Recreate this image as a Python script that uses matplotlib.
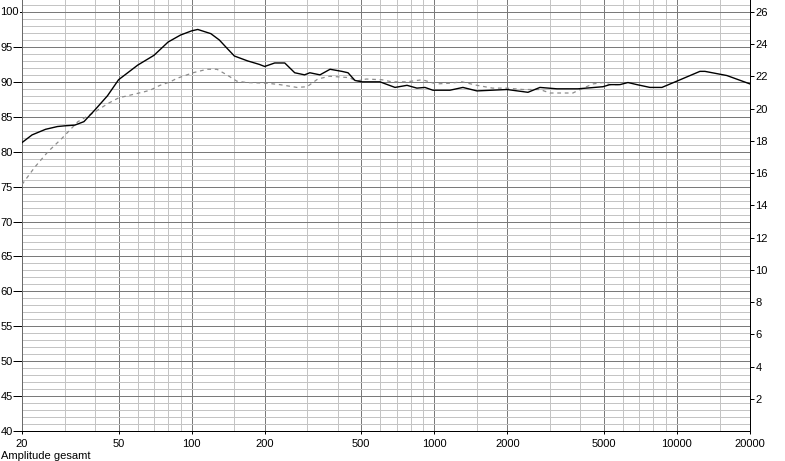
import matplotlib
matplotlib.use("Agg")
import matplotlib.pyplot as plt
import matplotlib.transforms as mtransforms
from matplotlib.ticker import FixedLocator, NullFormatter

# ---- data ----
solid_freq = [20, 22, 25, 28, 30, 33, 36, 40, 45, 50, 60, 70, 80, 90, 100, 106, 120, 130,
              140, 150, 170, 190, 200, 220, 242, 266, 292, 307, 338, 372, 416, 441, 471,
              503, 597, 689, 772, 848, 915, 987, 1160, 1312, 1499, 1993, 2432, 2725, 3203,
              3908, 4954, 5296, 5822, 6281, 6841, 7739, 8671, 9994, 12436, 13040, 16066, 20000]
solid_db = [81.3, 82.4, 83.2, 83.6, 83.7, 83.8, 84.3, 86.0, 88.0, 90.3, 92.4, 93.8, 95.7, 96.7,
            97.3, 97.5, 96.9, 96.0, 94.8, 93.7, 93.0, 92.5, 92.2, 92.7, 92.7, 91.3, 91.0, 91.3,
            91.0, 91.8, 91.5, 91.3, 90.2, 90.0, 90.0, 89.2, 89.5, 89.1, 89.2, 88.8, 88.8, 89.2,
            88.7, 88.9, 88.5, 89.2, 89.0, 89.0, 89.3, 89.6, 89.6, 89.9, 89.6, 89.2, 89.2, 90.1,
            91.5, 91.5, 90.9, 89.7]

dashed_freq = [20, 22.6, 25.6, 29.2, 34, 40, 45.2, 50, 64.2, 67.4, 74.1, 81.6, 87, 101.3, 115.7,
               127.1, 139.7, 153.5, 168.6, 204.4, 231, 271.9, 299, 331, 370, 447, 477, 524,
               608, 668, 770, 893, 1017, 1160, 1300, 1499, 1740, 1993, 2319, 2725, 2995, 3727,
               3983, 4505, 4954, 5296, 5822]
dashed_db = [75.3, 77.8, 80.0, 81.9, 84.3, 85.7, 86.9, 87.7, 88.6, 88.8, 89.5, 90.0, 90.5, 91.3,
             91.8, 91.8, 91.0, 90.1, 89.9, 89.8, 89.6, 89.2, 89.3, 90.4, 90.8, 90.6, 90.1, 90.4,
             90.3, 90.0, 90.0, 90.3, 89.7, 89.8, 90.0, 89.5, 89.1, 89.1, 88.9, 88.9, 88.4, 88.4,
             88.9, 89.7, 89.9, 89.6, 89.6]

x_major = [20, 50, 100, 200, 500, 1000, 2000, 5000, 10000, 20000]
x_labels = ["20", "50", "100", "200", "500", "1000", "2000", "5000", "10000", "20000"]
x_minor = [30, 40, 60, 70, 80, 90, 150, 300, 400, 600, 700, 800, 900, 1500, 3000, 4000,
           6000, 7000, 8000, 9000, 15000]
y_major = list(range(40, 101, 5))
y_minor = [v for v in range(40, 102) if v % 5 != 0]
right_ticks = list(range(2, 27, 2))
caption = "Amplitude gesamt"

# ---- figure ----
W, H = 785, 461
fig = plt.figure(figsize=(W / 100, H / 100), dpi=100)
fig.patch.set_facecolor("white")
ax = fig.add_axes([22 / W, 30 / H, 728 / W, 431 / H])
FONT = "Liberation Sans"
FS = 8

ymin, ymax = 40, 40 + 431 / (419 / 60)
ax.set_xscale("log")
ax.set_xlim(20, 20000)
ax.set_ylim(ymin, ymax)

ax.xaxis.set_major_locator(FixedLocator(x_major))
ax.set_xticklabels(x_labels, fontfamily=FONT, fontsize=FS)
ax.xaxis.set_minor_locator(FixedLocator(x_minor))
ax.xaxis.set_minor_formatter(NullFormatter())
ax.yaxis.set_major_locator(FixedLocator(y_major))
ax.set_yticklabels([str(v) if v != 100 else "" for v in y_major], fontfamily=FONT, fontsize=FS)
ax.yaxis.set_minor_locator(FixedLocator(y_minor))
ax.yaxis.set_minor_formatter(NullFormatter())

ax.grid(which="minor", color="#c4c4c4", linewidth=0.72, antialiased=False)
ax.grid(which="major", color="#7a7a7a", linewidth=0.72, antialiased=False)
ax.set_axisbelow(True)

ax.tick_params(axis="x", which="major", direction="out", length=2.5, width=0.72, pad=3, colors="black")
ax.tick_params(axis="y", which="major", direction="out", length=6.5, width=0.72, pad=0.3, colors="black")
ax.tick_params(which="minor", length=0)

for s in ["top", "right"]:
    ax.spines[s].set_visible(False)
ax.spines["left"].set_color("#6a6a6a")
ax.spines["left"].set_linewidth(0.72)
ax.spines["bottom"].set_color("black")
ax.spines["bottom"].set_linewidth(0.72)

# curves
ax.plot(dashed_freq, dashed_db, color="#8c8c8c", linewidth=0.9, linestyle=(0, (3, 3)), zorder=3)
ax.plot(solid_freq, solid_db, color="black", linewidth=1.0, zorder=4)

# "100" label (drawn over its tick like the original)
trans = mtransforms.blended_transform_factory(ax.transAxes, ax.transData)
ax.text(-3 / 728, 100, "100", ha="right", va="center", fontfamily=FONT, fontsize=FS,
        transform=trans, clip_on=False,
        bbox=dict(facecolor="white", edgecolor="none", pad=0.5))

# right axis
ax2 = ax.twinx()
ax2.set_ylim(0, 26 * (ymax - ymin) / 60)
ax2.yaxis.set_major_locator(FixedLocator(right_ticks))
ax2.set_yticklabels([str(v) for v in right_ticks], fontfamily=FONT, fontsize=FS)
ax2.tick_params(axis="y", direction="out", length=3, width=0.72, pad=1, colors="black")
for s in ["top", "left", "bottom"]:
    ax2.spines[s].set_visible(False)
ax2.spines["right"].set_color("black")
ax2.spines["right"].set_linewidth(0.72)

fig.text(1 / W, 0.5 / H, caption, ha="left", va="bottom", fontfamily=FONT, fontsize=FS)

fig.savefig("out.png", dpi=100)
